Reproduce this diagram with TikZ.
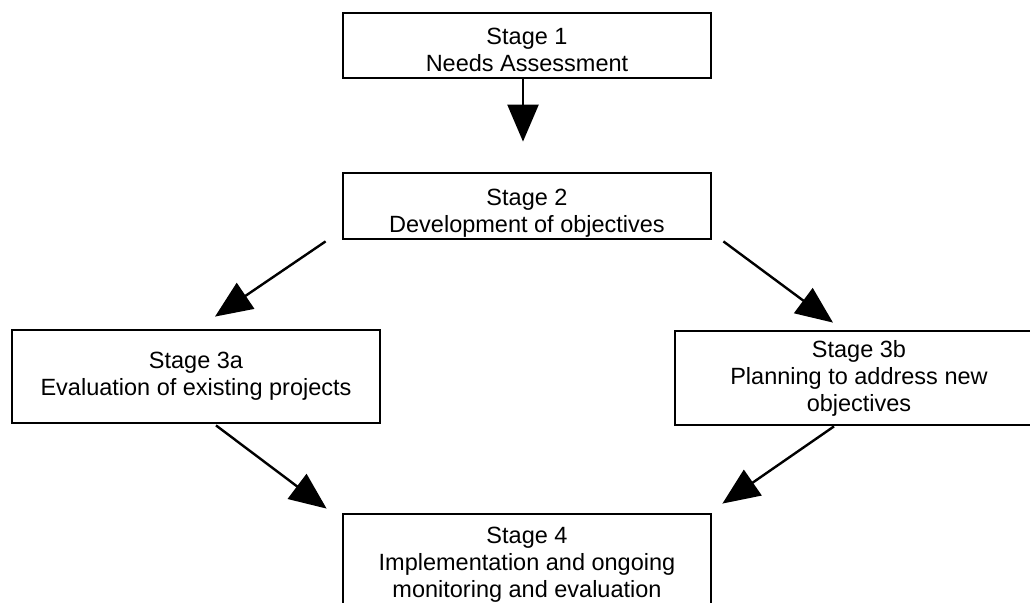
\documentclass[tikz,border=0pt]{standalone}
\usepackage{fontspec}
\setmainfont{Liberation Sans}
\usetikzlibrary{arrows.meta,positioning}
\tikzset{
  stagebox/.style={draw, line width=1.4pt, align=center, minimum width=184pt, inner sep=0pt},
  flow/.style={-{Triangle[length=18.5pt,width=15.5pt]}, line width=1.2pt}
}

\begin{document}
\begin{tikzpicture}[x=0.5pt,y=-0.5pt,font=\fontsize{11.75}{13.5}\selectfont]
\useasboundingbox (0,0) rectangle (1030,603);
\node[stagebox, minimum height=32.5pt] (s1) at (527,45.5) {\rule{0pt}{13pt}Stage 1\\Needs Assessment};
\node[stagebox, minimum height=33pt] (s2) at (527,206) {\rule{0pt}{15pt}Stage 2\\Development of objectives};
\node[stagebox, minimum height=46.5pt] (s3a) at (196,376.5) {Stage 3a\\Evaluation of existing projects};
\node[stagebox, minimum height=47pt] (s3b) at (859,378) {Stage 3b\\Planning to address new\\objectives};
\node[stagebox, minimum height=51pt] (s4) at (527,565) {Stage 4\\Implementation and ongoing\\monitoring and evaluation};
\draw[flow] ([xshift=-2pt]s1.south) -- ([shift={(-4,-30)}]s2.north);
\draw[flow] ([shift={(-16,1)}]s2.south west) -- ([shift={(19,-12)}]s3a.north);
\draw[flow] ([shift={(11,1)}]s2.south east) -- ([shift={(-26,-7)}]s3b.north);
\draw[flow] ([shift={(20,1)}]s3a.south) -- ([shift={(-15,-4)}]s4.north west);
\draw[flow] ([shift={(-25,0)}]s3b.south) -- ([shift={(10,-9)}]s4.north east);
\end{tikzpicture}
\end{document}
